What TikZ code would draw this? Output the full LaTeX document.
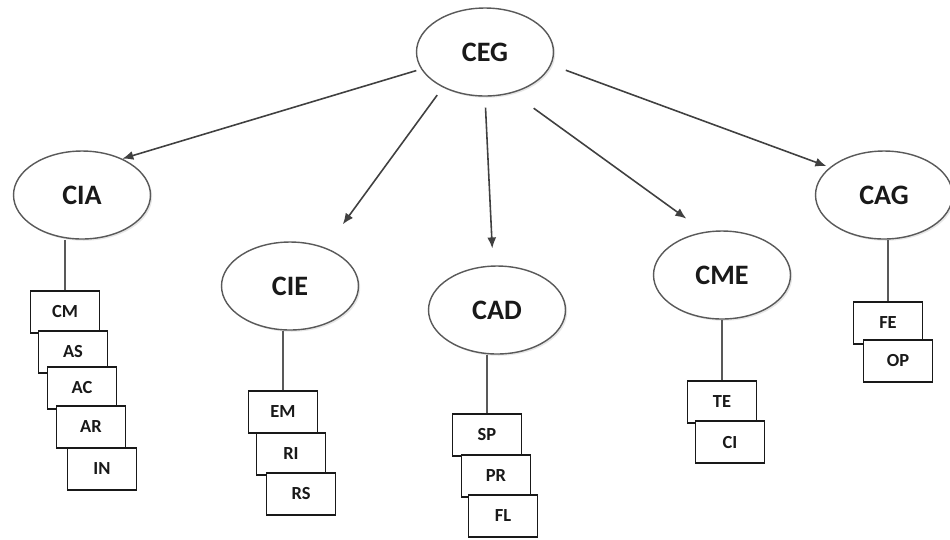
\documentclass[tikz,border=0pt]{standalone}
\usepackage{fontspec}
\setmainfont{Carlito}
\usetikzlibrary{shapes.geometric,shadows,arrows.meta}
\begin{document}
\begin{tikzpicture}[x=0.02cm,y=-0.02cm]
	\useasboundingbox (0,0) rectangle (950,539);
	\tikzstyle{main}=[ellipse, draw=black!65, line width=0.8pt, fill=white, minimum width=2.74cm, minimum height=1.76cm, font=\fontsize{16}{18}\selectfont\bfseries, text=black!90, drop shadow={opacity=0.2, shadow xshift=1pt, shadow yshift=-1pt}]
	\tikzstyle{leaf}=[rectangle, draw=black!90, line width=0.6pt, fill=white, minimum width=1.38cm, minimum height=0.84cm, font=\fontsize{10.5}{12}\selectfont\bfseries, text=black!90]
	\node[main] (CEG) at (485,52) {CEG};
	\node[main] (CIA) at (82,195) {CIA};
	\node[main] (CIE) at (290,286) {CIE};
	\node[main] (CAD) at (497,310) {CAD};
	\node[main] (CME) at (722,275) {CME};
	\node[main] (CAG) at (884,195) {CAG};
	
	\node[leaf] (CM) at (65,312) {CM};
	\node[leaf] (AS) at (73,352) {AS};
	\node[leaf] (AC) at (82,388) {AC};
	\node[leaf] (AR) at (91,427) {AR};
	\node[leaf] (IN) at (102,469) {IN};
	
	\node[leaf] (EM) at (283,412) {EM};
	\node[leaf] (RI) at (291,454) {RI};
	\node[leaf] (RS) at (301,494) {RS};
	
	\node[leaf] (SP) at (487,435) {SP};
	\node[leaf] (PR) at (496,476) {PR};
	\node[leaf] (FL) at (503,516) {FL};
	
	\node[leaf] (TE) at (722,402) {TE};
	\node[leaf] (CI) at (730,442) {CI};
	
	\node[leaf] (FE) at (888,323) {FE};
	\node[leaf] (OP) at (898,361) {OP};
	\begin{scope}[->, >={Latex[length=2.2mm,width=1.8mm]}, line width=0.9pt, draw=black!75]
		\draw[shorten <=0.1cm] (CEG.195) -- (CIA.42);
		\draw[shorten <=0.19cm, shorten >=0.58cm] (CEG.220) -- (CIE.47);
		\draw[shorten <=0.22cm, shorten >=0.34cm] (CEG.270) -- (CAD.95);
		\draw[shorten <=0.52cm, shorten >=0.45cm] (CEG.304) -- (CME.112);
		\draw[shorten <=0.31cm, shorten >=0.07cm] (CEG.349) -- (CAG.153);
	\end{scope}
	\begin{scope}[line width=0.7pt, draw=black!65]
		\draw (CM.north) -- (CM.north |- CIA.south);
		\draw (EM.north) -- (EM.north |- CIE.south);
		\draw (SP.north) -- (SP.north |- CAD.south);
		\draw (TE.north) -- (TE.north |- CME.south);
		\draw (FE.north) -- (FE.north |- CAG.south);
	\end{scope}
\end{tikzpicture}
\end{document}
